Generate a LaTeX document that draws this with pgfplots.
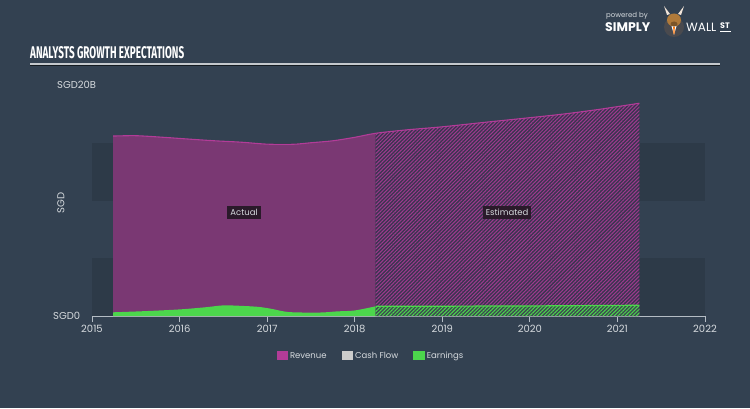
\documentclass[border=0pt]{standalone}
\usepackage{pgfplots}
\pgfplotsset{compat=1.18}
\usetikzlibrary{patterns.meta}
\usepackage{fontspec}
\setmainfont{Poppins}
\newfontfamily\titlefont{Fira Sans}
\definecolor{bg}{HTML}{334151}
\definecolor{band}{HTML}{2D3A48}
\definecolor{revfill}{HTML}{7A3873}
\definecolor{revline}{HTML}{B23C98}
\definecolor{revhatch}{HTML}{9E3A8E}
\definecolor{esthatchbg}{HTML}{3A3450}
\definecolor{earn}{HTML}{4CD64C}
\definecolor{earnhatchbg}{HTML}{3B4A50}
\definecolor{axisgray}{HTML}{B4BCC4}
\definecolor{ticktext}{HTML}{D6DADE}
\definecolor{labelbox}{HTML}{2A1A2A}
\definecolor{cfgray}{HTML}{CCCCCC}
\definecolor{titleline}{HTML}{C4C8CC}
\definecolor{bullbrown}{HTML}{B07A3A}
\definecolor{suit}{HTML}{4A4A4E}
\begin{document}
\begin{tikzpicture}
\fill[bg] (0pt,0pt) rectangle (750pt,408pt);
\useasboundingbox (0pt,0pt) rectangle (750pt,408pt);
% title
\node[anchor=base west, inner sep=0pt, text=white] at (30pt,349pt) {\resizebox{154pt}{12pt}{\titlefont\bfseries ANALYSTS GROWTH EXPECTATIONS}};
\draw[black!60!bg, line width=1pt] (30pt,342.5pt) -- (720pt,342.5pt);
\draw[titleline, line width=1.3pt] (30pt,344pt) -- (720pt,344pt);
% logo
\node[anchor=base west, inner sep=0pt, text=ticktext, font=\fontsize{7}{8}\selectfont] at (606pt,390pt) {powered by};
\node[anchor=base west, inner sep=0pt, text=white, font=\bfseries\fontsize{12.5}{14}\selectfont] at (605pt,376pt) {SIMPLY};
\fill[suit] (674pt,381pt) circle (10pt);
\fill[white] (671.5pt,382pt) -- (676.5pt,382pt) -- (674pt,373pt) -- cycle;
\fill[orange!90!red] (673.2pt,381pt) -- (674.8pt,381pt) -- (674.6pt,375pt) -- (674pt,373.5pt) -- (673.4pt,375pt) -- cycle;
\fill[bullbrown] (674pt,388pt) ellipse (7pt and 6.5pt);
\fill[bullbrown!70!black] (674pt,384pt) ellipse (3.5pt and 2.5pt);
\fill[white!80!brown] (667pt,393pt) -- (664pt,402pt) -- (670pt,394pt) -- cycle;
\fill[white!80!brown] (681pt,393pt) -- (684pt,402pt) -- (678pt,394pt) -- cycle;
\node[anchor=base west, inner sep=0pt, text=white, font=\fontsize{12}{14}\selectfont] at (686pt,376pt) {WALL};
\node[anchor=base west, inner sep=0pt, text=white, font=\bfseries\fontsize{8}{9}\selectfont] at (720pt,379pt) {ST};
\draw[white, line width=0.8pt] (720pt,377pt) -- (731pt,377pt);
\begin{axis}[
  at={(92pt,92pt)}, anchor=south west,
  scale only axis, width=613pt, height=231pt,
  xmin=2015, xmax=2022, ymin=0, ymax=20,
  axis x line=bottom, axis y line=none,
  axis line style={-, draw=axisgray, line width=1pt},
  xtick={2015,2016,...,2022}, ytick=\empty,
  tick align=outside, major tick length=6pt,
  tick style={draw=axisgray, line width=0.8pt},
  xticklabel style={font=\fontsize{10}{11}\selectfont, text=ticktext, /pgf/number format/1000 sep=},
  /pgf/number format/assume math mode=true,
  clip=false,
  legend style={at={(0.455,-0.173)}, anchor=center, draw=none, fill=none,
    legend columns=3, font=\fontsize{8.5}{10}\selectfont, text=ticktext,
    /tikz/every even column/.append style={column sep=13pt}},
  legend image code/.code={\fill[#1] (0pt,-4.5pt) rectangle (11.5pt,4.5pt);},
]
% background bands
\addplot[draw=none, fill=band, forget plot] coordinates {(2015,0) (2022,0) (2022,5) (2015,5)} -- cycle;
\addplot[draw=none, fill=band, forget plot] coordinates {(2015,10) (2022,10) (2022,15) (2015,15)} -- cycle;
% revenue actual
\addplot[draw=none, fill=revfill, smooth, forget plot] coordinates {
(2015.24,15.58) (2015.5,15.61) (2015.8,15.48) (2016.1,15.32) (2016.4,15.17) (2016.7,15.05)
(2017.0,14.88) (2017.3,14.87) (2017.5,15.00) (2017.75,15.17) (2018.0,15.47) (2018.24,15.82)} \closedcycle;
% revenue estimated
\addplot[draw=none, fill=esthatchbg, smooth, forget plot] coordinates {
(2018.24,15.82) (2018.6,16.12) (2019.0,16.38) (2019.5,16.78) (2020.0,17.17) (2020.4,17.50) (2020.8,17.90) (2021.25,18.42)} \closedcycle;
\addplot[draw=none, pattern={Lines[angle=45, distance=2.6pt, line width=1pt]}, pattern color=revhatch, smooth, forget plot] coordinates {
(2018.24,15.82) (2018.6,16.12) (2019.0,16.38) (2019.5,16.78) (2020.0,17.17) (2020.4,17.50) (2020.8,17.90) (2021.25,18.42)} \closedcycle;
% revenue line
\addplot[revline, line width=1.1pt, smooth, forget plot] coordinates {
(2015.24,15.58) (2015.5,15.61) (2015.8,15.48) (2016.1,15.32) (2016.4,15.17) (2016.7,15.05)
(2017.0,14.88) (2017.3,14.87) (2017.5,15.00) (2017.75,15.17) (2018.0,15.47) (2018.24,15.82)
(2018.6,16.12) (2019.0,16.38) (2019.5,16.78) (2020.0,17.17) (2020.4,17.50) (2020.8,17.90) (2021.25,18.42)};
% earnings actual
\addplot[draw=none, fill=earn, smooth, forget plot] coordinates {
(2015.24,0.32) (2015.6,0.42) (2016.0,0.57) (2016.3,0.76) (2016.5,0.92) (2016.7,0.88) (2016.9,0.79)
(2017.05,0.62) (2017.25,0.34) (2017.6,0.30) (2017.8,0.40) (2018.0,0.48) (2018.24,0.84)} \closedcycle;
% earnings estimated
\addplot[draw=none, fill=earnhatchbg, forget plot] coordinates {
(2018.24,0.84) (2019.0,0.85) (2020.0,0.87) (2021.25,0.93)} \closedcycle;
\addplot[draw=none, pattern={Lines[angle=45, distance=2.6pt, line width=1pt]}, pattern color=earn, forget plot] coordinates {
(2018.24,0.84) (2019.0,0.85) (2020.0,0.87) (2021.25,0.93)} \closedcycle;
\addplot[earn, line width=1.2pt, forget plot] coordinates {
(2018.24,0.84) (2019.0,0.85) (2020.0,0.87) (2021.25,0.93)};
% legend
\addlegendimage{fill=revline, draw=none}
\addlegendentry{Revenue}
\addlegendimage{fill=cfgray, draw=none}
\addlegendentry{Cash Flow}
\addlegendimage{fill=earn, draw=none}
\addlegendentry{Earnings}
% labels
\node[fill=labelbox, text=ticktext, font=\fontsize{8.5}{10}\selectfont, inner sep=3pt] at (axis cs:2016.736,8.96) {Actual};
\node[fill=labelbox, text=ticktext, font=\fontsize{8.5}{10}\selectfont, inner sep=3pt] at (axis cs:2019.74,8.96) {Estimated};
\node[anchor=west, inner sep=0pt, text=ticktext, font=\fontsize{10}{11}\selectfont] at (axis cs:2015,0) [xshift=-39pt] {SGD0};
\node[anchor=west, inner sep=0pt, text=ticktext, font=\fontsize{10}{11}\selectfont] at (axis cs:2015,20) [xshift=-35pt] {SGD20B};
\node[rotate=90, inner sep=0pt, text=ticktext, font=\fontsize{10}{11}\selectfont] at (rel axis cs:-0.0506,0.489) {SGD};
\end{axis}
\end{tikzpicture}
\end{document}
